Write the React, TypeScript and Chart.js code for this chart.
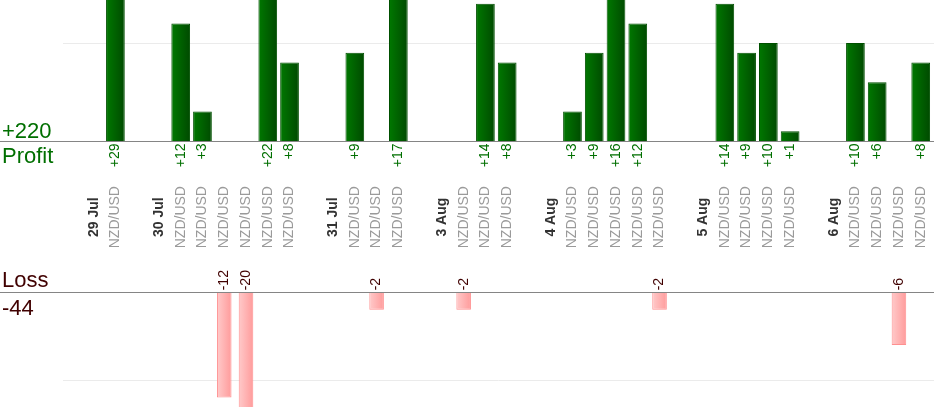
import { useEffect, useRef } from "react";
import {
  Chart,
  BarController,
  BarElement,
  CategoryScale,
  LinearScale,
} from "chart.js";

Chart.register(BarController, BarElement, CategoryScale, LinearScale);

// one slot per column: empty gap, day header, or a trade
const CATEGORIES = [
  "", "29 Jul", "NZD/USD",
  "", "30 Jul", "NZD/USD", "NZD/USD", "NZD/USD", "NZD/USD", "NZD/USD", "NZD/USD",
  "", "31 Jul", "NZD/USD", "NZD/USD", "NZD/USD",
  "", "3 Aug", "NZD/USD", "NZD/USD", "NZD/USD",
  "", "4 Aug", "NZD/USD", "NZD/USD", "NZD/USD", "NZD/USD", "NZD/USD",
  "", "5 Aug", "NZD/USD", "NZD/USD", "NZD/USD", "NZD/USD",
  "", "6 Aug", "NZD/USD", "NZD/USD", "NZD/USD", "NZD/USD",
];

const PROFITS: (number | null)[] = [
  null, null, 29,
  null, null, 12, 3, null, null, 22, 8,
  null, null, 9, null, 17,
  null, null, null, 14, 8,
  null, null, 3, 9, 16, 12, null,
  null, null, 14, 9, 10, 1,
  null, null, 10, 6, null, 8,
];

const LOSSES: (number | null)[] = [
  null, null, null,
  null, null, null, null, -12, -20, null, null,
  null, null, null, -2, null,
  null, null, -2, null, null,
  null, null, null, null, null, null, -2,
  null, null, null, null, null, null,
  null, null, null, null, -6, null,
];

const PROFIT_GRID = 10;
const LOSS_GRID = -10;

const FONT = '"Liberation Sans", Arial, sans-serif';
const GREEN_TEXT = "#006f00";
const LOSS_TEXT = "#400000";
const PROFIT_PCT = 0.86;
const LOSS_PCT = 0.67;

const sum = (arr: (number | null)[]) =>
  arr.reduce<number>((a, v) => a + (v ?? 0), 0);

function barGradient(ctx: any, pct: number, left: string, right: string, fallback: string) {
  const chart = ctx.chart;
  const x = chart.scales?.x;
  if (!chart.chartArea || !x) return fallback;
  const c = x.getPixelForValue(ctx.dataIndex);
  const hw = (x.width / CATEGORIES.length) * pct * 0.5;
  const g = chart.ctx.createLinearGradient(c - hw, 0, c + hw, 0);
  g.addColorStop(0, left);
  g.addColorStop(1, right);
  return g;
}

const labelsPlugin = {
  id: "plLabels",
  beforeDatasetsDraw(chart: any) {
    const { ctx, scales, width } = chart;
    const gridLeft = 63;
    ctx.save();
    ctx.strokeStyle = "#ebebeb";
    ctx.lineWidth = 1;
    [scales.yP.getPixelForValue(PROFIT_GRID), scales.yL.getPixelForValue(LOSS_GRID)].forEach(
      (y: number) => {
        const yy = Math.round(y) + 0.5;
        ctx.beginPath();
        ctx.moveTo(gridLeft, yy);
        ctx.lineTo(width, yy);
        ctx.stroke();
      }
    );
    ctx.restore();
  },
  afterDatasetsDraw(chart: any) {
    const { ctx, scales, width } = chart;
    const x = scales.x;
    const p0 = scales.yP.getPixelForValue(0);
    const l0 = scales.yL.getPixelForValue(0);
    ctx.save();

    // zero lines across the whole width
    ctx.strokeStyle = "#858585";
    ctx.lineWidth = 1;
    [p0, l0].forEach((y: number) => {
      const yy = Math.round(y) + 0.5;
      ctx.beginPath();
      ctx.moveTo(0, yy);
      ctx.lineTo(width, yy);
      ctx.stroke();
    });

    // totals on the left
    ctx.font = `22px ${FONT}`;
    ctx.textAlign = "left";
    ctx.textBaseline = "alphabetic";
    ctx.fillStyle = GREEN_TEXT;
    ctx.fillText("+" + sum(PROFITS), 2, p0 - 3.5);
    ctx.fillText("Profit", 2, p0 + 22);
    ctx.fillStyle = LOSS_TEXT;
    ctx.fillText("Loss", 2, l0 - 5);
    ctx.fillText(String(sum(LOSSES)), 2, l0 + 22.5);

    const midY = (p0 + l0) / 2 + 0.5;
    CATEGORIES.forEach((cat, i) => {
      const cx = x.getPixelForValue(i);
      const pv = PROFITS[i];
      const lv = LOSSES[i];

      if (cat) {
        const isDay = cat !== "NZD/USD";
        ctx.save();
        ctx.translate(cx, midY);
        ctx.rotate(-Math.PI / 2);
        ctx.font = `${isDay ? "bold " : ""}14px ${FONT}`;
        ctx.fillStyle = isDay ? "#333333" : "#9a9a9a";
        ctx.textAlign = "center";
        ctx.textBaseline = "middle";
        ctx.fillText(cat, 0, 0);
        ctx.restore();
      }

      if (pv != null) {
        ctx.save();
        ctx.translate(cx, p0 + 2.5);
        ctx.rotate(-Math.PI / 2);
        ctx.font = `14px ${FONT}`;
        ctx.fillStyle = GREEN_TEXT;
        ctx.textAlign = "right";
        ctx.textBaseline = "middle";
        ctx.fillText("+" + pv, 0, 0);
        ctx.restore();
      }

      if (lv != null) {
        ctx.save();
        ctx.translate(cx, l0 - 2);
        ctx.rotate(-Math.PI / 2);
        ctx.font = `14px ${FONT}`;
        ctx.fillStyle = LOSS_TEXT;
        ctx.textAlign = "left";
        ctx.textBaseline = "middle";
        ctx.fillText(String(lv), 0, 0);
        ctx.restore();
      }
    });

    ctx.restore();
  },
};

export default function App() {
  const canvasRef = useRef<HTMLCanvasElement>(null);
  const chartRef = useRef<Chart | null>(null);

  useEffect(() => {
    if (!canvasRef.current || chartRef.current) return;

    chartRef.current = new Chart(canvasRef.current, {
      type: "bar",
      data: {
        labels: CATEGORIES,
        datasets: [
          {
            data: PROFITS,
            yAxisID: "yP",
            grouped: false,
            backgroundColor: (c: any) =>
              barGradient(c, PROFIT_PCT, "#007800", "#004a00", "#006000"),
            borderColor: "#005000",
            borderWidth: 1,
            barPercentage: PROFIT_PCT,
            categoryPercentage: 1,
          },
          {
            data: LOSSES,
            yAxisID: "yL",
            grouped: false,
            backgroundColor: (c: any) =>
              barGradient(c, LOSS_PCT, "#ffcaca", "#ff9b9b", "#ffb0b0"),
            borderColor: "#ff9090",
            borderWidth: 1,
            barPercentage: LOSS_PCT,
            categoryPercentage: 1,
          },
        ] as any,
      },
      options: {
        animation: false,
        responsive: false,
        layout: { padding: { left: 61, right: 2.4, top: 0, bottom: 13 } },
        plugins: {
          legend: { display: false },
          tooltip: { enabled: false },
        },
        scales: {
          x: { type: "category", display: false },
          // profit: 0 sits at y=141, 9.8 px per unit
          yP: { type: "linear", display: false, min: -27.14, max: 14.39 },
          // loss: 0 sits at y=292, 8.77 px per unit
          yL: { type: "linear", display: false, min: -13.08, max: 33.33 },
        },
      },
      plugins: [labelsPlugin],
    });

    return () => {
      chartRef.current?.destroy();
      chartRef.current = null;
    };
  }, []);

  return (
    <div
      style={{
        position: "absolute",
        left: 0,
        top: 0,
        width: 934,
        height: 420,
        background: "#ffffff",
      }}
    >
      <canvas ref={canvasRef} width={934} height={420} />
    </div>
  );
}
